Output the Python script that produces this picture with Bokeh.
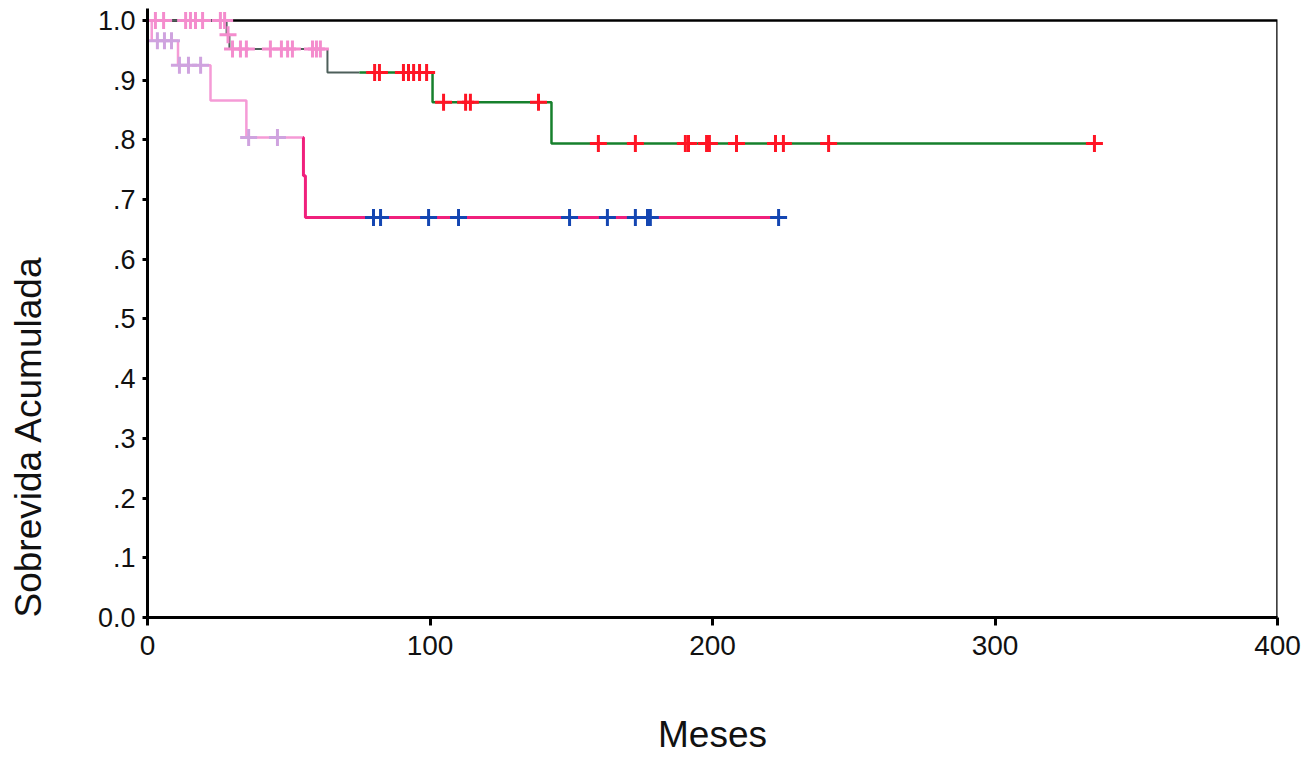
import numpy as np
from bokeh.plotting import figure
from bokeh.models import Range1d, FixedTicker, CustomJSTickFormatter, BoxAnnotation, Title
from bokeh.embed import file_html
from bokeh.resources import INLINE

# ---------------- data ----------------
# Group 1 (upper curve): event times (months) and survival level after each step
g1_event_times = [28.0, 29.0, 63.7, 100.9, 143.0]
g1_levels = [1.0, 0.976, 0.952, 0.913, 0.863, 0.794]
g1_end = 336.0
g1_censored = [2.8, 5.7, 13.5, 15.2, 17.0, 19.5, 25.8, 27.3, 28.5,
               30.1, 32.9, 35.0, 43.5, 47.4, 49.6, 51.3, 58.4, 59.8, 61.2,
               80.4, 82.1, 90.6, 92.4, 94.2, 96.3, 98.8,
               104.8, 112.6, 114.3, 138.4,
               159.6, 172.7, 190.4, 191.5, 197.9, 198.9, 208.5, 222.3, 225.1, 241.1, 335.2]

# Group 2 (lower curve)
g2_event_times = [1.5, 10.8, 22.3, 35.0, 55.2, 55.9]
g2_levels = [1.0, 0.966, 0.925, 0.866, 0.804, 0.74, 0.67]
g2_end = 224.0
g2_censored = [3.5, 6.0, 8.5, 11.3, 14.5, 18.8, 35.8, 46.0,
               80.0, 82.5, 99.5, 110.1, 149.4, 162.8, 172.7, 177.0, 178.0, 223.4]

x_tick_values = [0, 100, 200, 300, 400]
y_tick_values = [0.0, 0.1, 0.2, 0.3, 0.4, 0.5, 0.6, 0.7, 0.8, 0.9, 1.0]
y_tick_labels = ["0.0", ".1", ".2", ".3", ".4", ".5", ".6", ".7", ".8", ".9", "1.0"]
x_title = "Meses"
y_title = "Sobrevida Acumulada"

# ---------------- helpers ----------------
def level_at(t, events, levels):
    return levels[int(np.searchsorted(np.asarray(events), t, side="right"))]

def step_path(events, levels, end):
    xs, ys = [0.0], [levels[0]]
    for i, t in enumerate(events):
        xs += [t, t]
        ys += [levels[i], levels[i + 1]]
    xs.append(end)
    ys.append(levels[-1])
    return xs, ys

def split_path(xs, ys, ts, events, levels):
    lv = level_at(ts, events, levels)
    ax = [x for x in xs if x < ts]
    ay = [y for x, y in zip(xs, ys) if x < ts]
    bx = [x for x in xs if x > ts]
    by = [y for x, y in zip(xs, ys) if x > ts]
    return (ax + [ts], ay + [lv]), ([ts] + bx, [lv] + by)

FONT = "Liberation Sans"

p = figure(width=1303, height=758, output_backend="svg", toolbar_location=None,
           x_range=Range1d(0, 400), y_range=Range1d(0, 1.02),
           min_border_left=147, min_border_right=26, min_border_top=8, min_border_bottom=141)
p.background_fill_color = "white"
p.border_fill_color = "white"
p.outline_line_color = None
p.xgrid.visible = False
p.ygrid.visible = False

# axes
p.xaxis.ticker = FixedTicker(ticks=x_tick_values)
p.yaxis.ticker = FixedTicker(ticks=y_tick_values)
p.yaxis.formatter = CustomJSTickFormatter(
    args=dict(vals=y_tick_values, labs=y_tick_labels),
    code="const i = vals.findIndex(v => Math.abs(v - tick) < 1e-9); return i >= 0 ? labs[i] : String(tick);")
for ax in (p.xaxis, p.yaxis):
    ax.axis_line_color = "black"
    ax.axis_line_width = 3
    ax.major_tick_line_color = "black"
    ax.major_tick_line_width = 3
    ax.minor_tick_line_color = None
    ax.major_tick_in = 0
    ax.major_label_text_color = "#111111"
p.yaxis.major_tick_out = 5
p.yaxis.major_label_standoff = 7
p.yaxis.major_label_text_font = FONT
p.yaxis.major_label_text_font_size = "27px"
# blank spacer label on the y axis (keeps the side title away from the tick labels)
p.yaxis.axis_label = " "
p.yaxis.axis_label_text_font_size = "1px"
p.yaxis.axis_label_text_alpha = 0
p.yaxis.axis_label_standoff = 42

p.xaxis.major_tick_out = 8
p.xaxis.major_label_standoff = 10
p.xaxis.major_label_text_font = FONT
p.xaxis.major_label_text_font_size = "28px"
p.xaxis.axis_label = x_title
p.xaxis.axis_label_text_font = FONT
p.xaxis.axis_label_text_font_style = "normal"
p.xaxis.axis_label_text_font_size = "37px"
p.xaxis.axis_label_text_color = "#111111"
p.xaxis.axis_label_standoff = 56

# y title as a side title aligned to the bottom of the frame
p.add_layout(Title(text=y_title, align="left", text_font=FONT, text_font_size="37px",
                   text_font_style="normal", text_color="#111111", standoff=0), "left")

# frame (top and right border at the 1.0 / 400 limits)
p.add_layout(BoxAnnotation(left=0, right=400, bottom=0, top=1.0, fill_alpha=0,
                           line_color="black", line_alpha=1.0, line_width=2.5, level="underlay"))

# curves
g1x, g1y = step_path(g1_event_times, g1_levels, g1_end)
(g1ax, g1ay), (g1bx, g1by) = split_path(g1x, g1y, 75.0, g1_event_times, g1_levels)
g2x, g2y = step_path(g2_event_times, g2_levels, g2_end)
(g2ax, g2ay), (g2bx, g2by) = split_path(g2x, g2y, 55.0, g2_event_times, g2_levels)

p.line(g2ax, g2ay, line_color="#f59bd6", line_width=2.5)
p.line(g2bx, g2by, line_color="#f0207c", line_width=3)
p.line(g1ax, g1ay, line_color="#4d5f5a", line_width=2)
p.line(g1bx, g1by, line_color="#16802c", line_width=2.5)

g2_cy = [level_at(t, g2_event_times, g2_levels) for t in g2_censored]
g2_col = ["#cfa3df" if t < 50 else "#1446b2" for t in g2_censored]
p.scatter(g2_censored, g2_cy, marker="cross", size=17, line_width=3, line_color=g2_col)

g1_cy = [level_at(t, g1_event_times, g1_levels) for t in g1_censored]
g1_col = ["#f48ccd" if t < 70 else "#ff1525" for t in g1_censored]
p.scatter(g1_censored, g1_cy, marker="cross", size=17, line_width=3, line_color=g1_col)

open("out.html", "w").write(file_html(p, INLINE))
